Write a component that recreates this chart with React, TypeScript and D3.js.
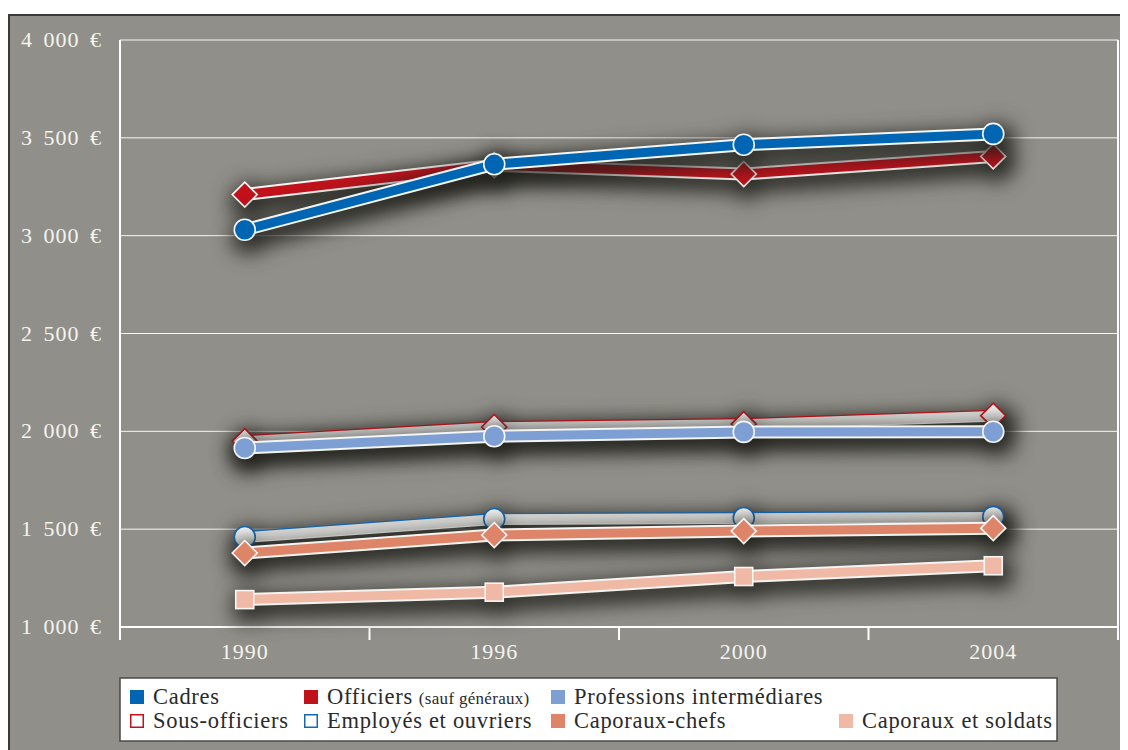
import React from "react";
import * as d3 from "d3";

// Salaires nets mensuels moyens par catégorie (en euros)
const years = ["1990", "1996", "2000", "2004"];
const cadres = [3030, 3365, 3465, 3520];
const officiers = [3210, 3360, 3315, 3405];
const professions = [1915, 1975, 1997, 1998];
const sousOfficiers = [1950, 2022, 2037, 2080];
const employes = [1460, 1552, 1557, 1563];
const caporauxChefs = [1378, 1470, 1490, 1505];
const soldats = [1140, 1178, 1258, 1313];
const yTicks = [1000, 1500, 2000, 2500, 3000, 3500, 4000];

type Shape = "circle" | "diamond" | "square";
interface Serie {
  name: string;
  values: number[];
  color: string;
  hollow: boolean;
  shape: Shape;
}

// drawing order: later series sit on top
const series: Serie[] = [
  { name: "Officiers", values: officiers, color: "#c1121c", hollow: false, shape: "diamond" },
  { name: "Cadres", values: cadres, color: "#0066b3", hollow: false, shape: "circle" },
  { name: "Sous-officiers", values: sousOfficiers, color: "#c1121c", hollow: true, shape: "diamond" },
  { name: "Professions intermédiares", values: professions, color: "#7d9fd4", hollow: false, shape: "circle" },
  { name: "Employés et ouvriers", values: employes, color: "#1668b2", hollow: true, shape: "circle" },
  { name: "Caporaux-chefs", values: caporauxChefs, color: "#de8569", hollow: false, shape: "diamond" },
  { name: "Caporaux et soldats", values: soldats, color: "#f0b9a5", hollow: false, shape: "square" },
];

const legendItems = [
  { label: "Cadres", color: "#0066b3", hollow: false, col: 0, row: 0 },
  { label: "Officiers", small: "(sauf généraux)", color: "#c1121c", hollow: false, col: 1, row: 0 },
  { label: "Professions intermédiares", color: "#7d9fd4", hollow: false, col: 2, row: 0 },
  { label: "Sous-officiers", color: "#c1121c", hollow: true, col: 0, row: 1 },
  { label: "Employés et ouvriers", color: "#1668b2", hollow: true, col: 1, row: 1 },
  { label: "Caporaux-chefs", color: "#de8569", hollow: false, col: 2, row: 1 },
  { label: "Caporaux et soldats", color: "#f0b9a5", hollow: false, col: 3, row: 1 },
];

const W = 1120;
const H = 742;
const FONT = "'Liberation Serif', 'Times New Roman', serif";
const TEXT = "#f4f4f0";

const plot = { left: 120, right: 1118, top: 40, bottom: 627 };
const legendCols = [130, 304, 551, 839];
const legendRows = [697, 721];

const fr = d3.formatLocale({ decimal: ",", thousands: " ", grouping: [3], currency: ["", " €"] });
const fmt = fr.format(",");

function Marker({ shape, x, y, fill, stroke }: { shape: Shape; x: number; y: number; fill: string; stroke: string }) {
  if (shape === "circle") {
    return <circle cx={x} cy={y} r={10.5} fill={fill} stroke={stroke} strokeWidth={1.6} />;
  }
  if (shape === "square") {
    return <rect x={x - 9} y={y - 9} width={18} height={18} fill={fill} stroke={stroke} strokeWidth={1.6} />;
  }
  const s = 12.5;
  const p = d3.path();
  p.moveTo(x, y - s);
  p.lineTo(x + s, y);
  p.lineTo(x, y + s);
  p.lineTo(x - s, y);
  p.closePath();
  return <path d={p.toString()} fill={fill} stroke={stroke} strokeWidth={1.6} />;
}

export default function App() {
  const x = d3.scaleBand<string>().domain(years).range([plot.left, plot.right]).padding(0);
  const y = d3.scaleLinear().domain([1000, 4000]).range([plot.bottom, plot.top]);
  const cx = (yr: string) => (x(yr) as number) + x.bandwidth() / 2;
  const line = d3
    .line<number>()
    .x((_, i) => cx(years[i]))
    .y((v) => y(v));

  const tickPositions = years.slice(1).map((yr) => x(yr) as number);

  return (
    <svg width={W} height={H} style={{ display: "block", fontFamily: FONT }}>
      <defs>
        <filter id="ombre" filterUnits="userSpaceOnUse" x={0} y={0} width={1200} height={800} colorInterpolationFilters="sRGB">
          <feMorphology in="SourceAlpha" operator="dilate" radius={5} result="epais" />
          <feGaussianBlur in="epais" stdDeviation={10} result="flou" />
          <feOffset in="flou" dx={4} dy={7} result="decale" />
          <feFlood floodColor="#1c1c18" floodOpacity={0.88} result="teinte" />
          <feComposite in="teinte" in2="decale" operator="in" result="ombrage" />
          <feMerge>
            <feMergeNode in="ombrage" />
            <feMergeNode in="SourceGraphic" />
          </feMerge>
        </filter>
        <linearGradient id="clair" x1="0" y1="0" x2="0" y2="1">
          <stop offset="0" stopColor="#f6f6f5" />
          <stop offset="1" stopColor="#cfcfcd" />
        </linearGradient>
      </defs>
      <g transform="translate(-8,-8)">
        {/* cadre */}
        <rect x={9} y={15} width={1200} height={800} fill="#908f89" stroke="#3a3a38" strokeWidth={2} />

        {/* grille */}
        {yTicks.map((t) => (
          <line key={t} x1={plot.left} x2={plot.right} y1={y(t)} y2={y(t)} stroke="#ffffff" strokeOpacity={0.92} strokeWidth={1} />
        ))}
        <line x1={plot.left} x2={plot.left} y1={plot.top} y2={plot.bottom + 13} stroke="#fff" strokeWidth={2} />
        <line x1={plot.right} x2={plot.right} y1={plot.top} y2={plot.bottom + 13} stroke="#fff" strokeWidth={2} />
        <line x1={plot.left} x2={plot.right} y1={plot.bottom} y2={plot.bottom} stroke="#fff" strokeWidth={2} />
        {tickPositions.map((tx) => (
          <line key={tx} x1={tx} x2={tx} y1={plot.bottom} y2={plot.bottom + 13} stroke="#fff" strokeWidth={2} />
        ))}

        {/* étiquettes des axes */}
        {yTicks.map((t) => (
          <text key={t} x={102} y={y(t) + 7} textAnchor="end" fill={TEXT} fontSize={22} wordSpacing={4} letterSpacing={1}>
            {`${fmt(t)} €`}
          </text>
        ))}
        {years.map((yr) => (
          <text key={yr} x={cx(yr)} y={659} textAnchor="middle" fill={TEXT} fontSize={22} letterSpacing={1}>
            {yr}
          </text>
        ))}

        {/* séries */}
        {series.map((s) => {
          const d = line(s.values) ?? "";
          return (
            <g key={s.name} filter="url(#ombre)">
              {s.hollow ? (
                <>
                  <path d={d} transform="translate(0,-1)" fill="none" stroke={s.color} strokeWidth={10} strokeLinejoin="round" />
                  <path d={d} transform="translate(0,1)" fill="none" stroke="#f6f6f4" strokeWidth={10} strokeLinejoin="round" />
                  <path d={d} fill="none" stroke="#dadad8" strokeWidth={9.5} strokeLinejoin="round" />
                </>
              ) : (
                <>
                  <path d={d} fill="none" stroke="#f4f4f2" strokeWidth={13} strokeLinejoin="round" />
                  <path d={d} fill="none" stroke={s.color} strokeWidth={9} strokeLinejoin="round" />
                </>
              )}
              {s.values.map((v, i) => (
                <Marker
                  key={i}
                  shape={s.shape}
                  x={cx(years[i])}
                  y={y(v)}
                  fill={s.hollow ? "url(#clair)" : s.color}
                  stroke={s.hollow ? s.color : "#f6f6f4"}
                />
              ))}
            </g>
          );
        })}

        {/* légende */}
        <rect x={120} y={678} width={937} height={63} fill="#ffffff" stroke="#4a4a48" strokeWidth={1.5} />
        {legendItems.map((it) => {
          const lx = legendCols[it.col];
          const ly = legendRows[it.row];
          return (
            <g key={it.label}>
              <rect
                x={lx + (it.hollow ? 0.75 : 0)}
                y={ly - 7 + (it.hollow ? 0.75 : 0)}
                width={it.hollow ? 12.5 : 14}
                height={it.hollow ? 12.5 : 14}
                fill={it.hollow ? "#ffffff" : it.color}
                stroke={it.hollow ? it.color : "none"}
                strokeWidth={1.5}
              />
              <text x={lx + 23} y={ly + 7} fontSize={22.5} letterSpacing={0.7} fill="#2a2a2a">
                {it.label}
                {it.small ? (
                  <tspan fontSize={17} dx={6} letterSpacing={0.3}>
                    {it.small}
                  </tspan>
                ) : null}
              </text>
            </g>
          );
        })}
      </g>
    </svg>
  );
}
